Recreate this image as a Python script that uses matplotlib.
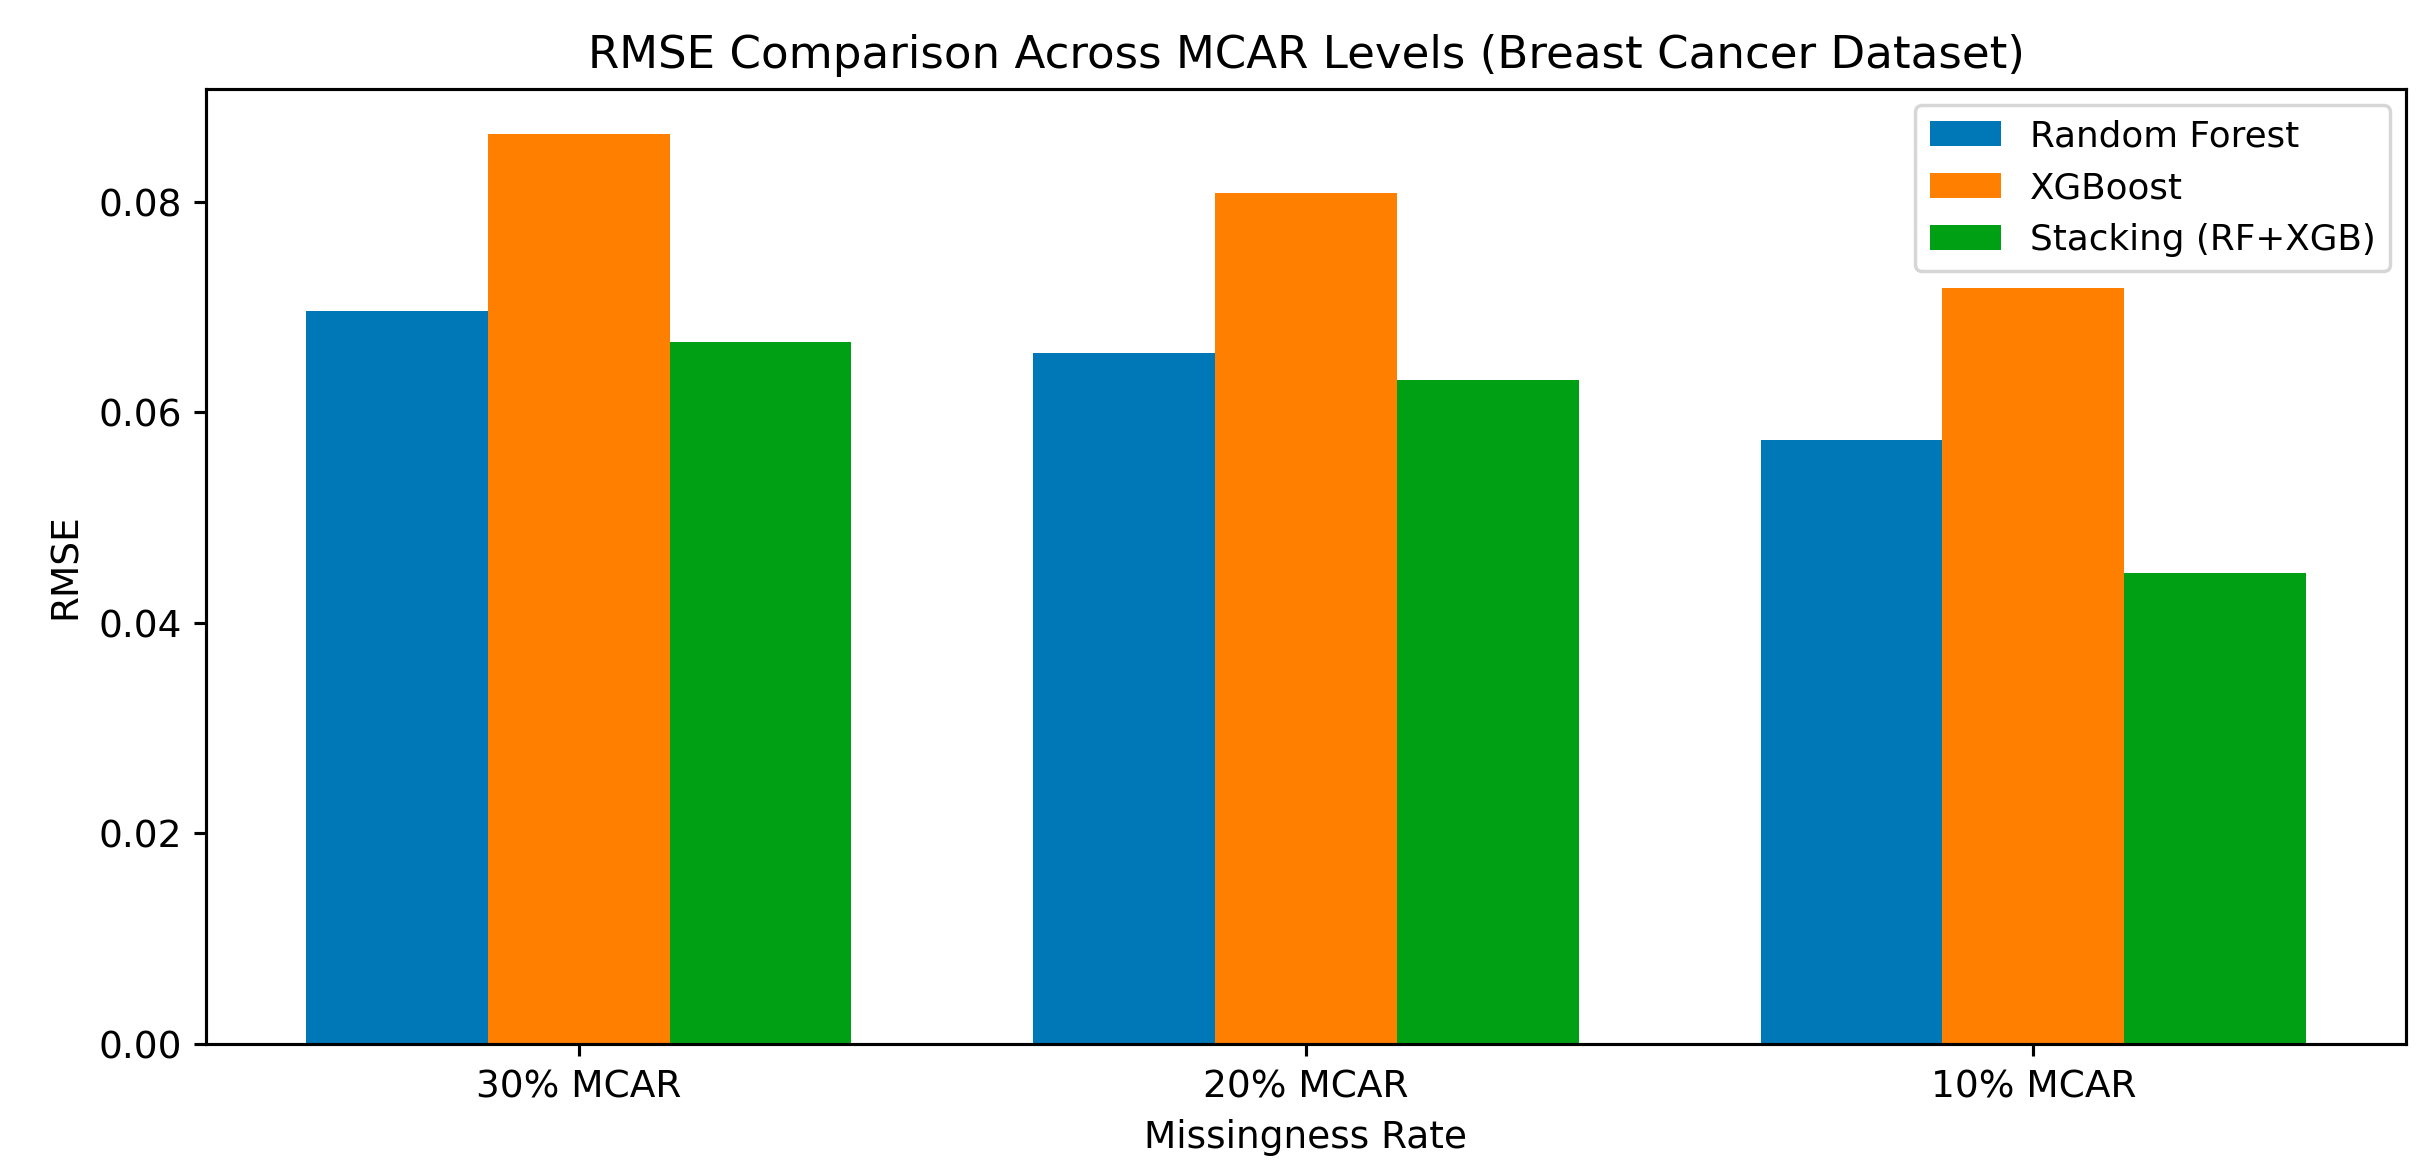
import matplotlib
matplotlib.use("Agg")
import matplotlib.pyplot as plt
import numpy as np

categories = ["30% MCAR", "20% MCAR", "10% MCAR"]
series_names = ["Random Forest", "XGBoost", "Stacking (RF+XGB)"]
rf_values = [0.0696, 0.0656, 0.0574]
xgb_values = [0.0864, 0.0808, 0.0718]
stack_values = [0.0667, 0.0631, 0.0447]
colors = ["#0077b6", "#ff8000", "#00a014"]

plt.rcParams["font.family"] = ["DejaVu Sans"]
plt.rcParams["font.size"] = 10.8
plt.rcParams["axes.linewidth"] = 0.9
plt.rcParams["xtick.major.width"] = 0.9
plt.rcParams["ytick.major.width"] = 0.9

fig = plt.figure(figsize=(9.72, 4.64), dpi=250)
ax = fig.add_axes([206 / 2430, 1 - 1044 / 1160, (2406 - 206) / 2430, (1044 - 89) / 1160])

x = np.arange(len(categories))
width = 0.25
for i, (vals, name, c) in enumerate(zip([rf_values, xgb_values, stack_values], series_names, colors)):
    ax.bar(x + (i - 1) * width, vals, width, label=name, color=c)

ax.set_xticks(x)
ax.set_xticklabels(categories)
ax.set_xlabel("Missingness Rate")
ax.set_ylabel("RMSE")
ax.set_title("RMSE Comparison Across MCAR Levels (Breast Cancer Dataset)", fontsize=13)
ax.legend(loc="upper right", fontsize=10.3, borderaxespad=0.45)

fig.savefig("out.png", dpi=250)
